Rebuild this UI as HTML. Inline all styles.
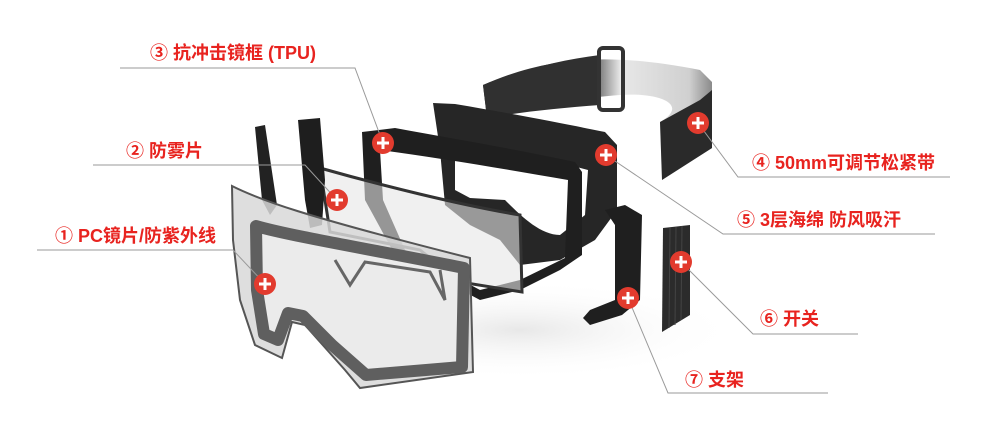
<!DOCTYPE html>
<html><head><meta charset="utf-8"><style>
html,body{margin:0;padding:0;background:#fff;}
svg{display:block}
.t{font-family:"Liberation Sans","Noto Sans CJK SC",sans-serif;font-weight:bold;font-size:18px;fill:#e8231f}
.l{stroke:#9a9a9a;stroke-width:1;fill:none}
</style></head><body>
<svg width="1000" height="441" viewBox="0 0 1000 441" xmlns="http://www.w3.org/2000/svg">
<defs>
<linearGradient id="sg" x1="0" y1="0" x2="1" y2="0">
<stop offset="0" stop-color="#2e2e2e"/><stop offset="0.45" stop-color="#3a3a3a"/><stop offset="0.6" stop-color="#e8e8e8"/><stop offset="0.9" stop-color="#d0d0d0"/><stop offset="1" stop-color="#8a8a8a"/>
</linearGradient>
<radialGradient id="sh" cx="0.5" cy="0.5" r="0.5"><stop offset="0" stop-color="#d8d8d8"/><stop offset="1" stop-color="#fff" stop-opacity="0"/></radialGradient>
</defs>
<ellipse cx="520" cy="330" rx="220" ry="50" fill="url(#sh)" opacity="0.6"/>
<!-- strap -->
<path d="M483,85 C540,60 600,50 700,70 L712,82 L712,148 L662,180 L660,122 C690,105 660,92 620,95 C580,98 540,105 487,118 Z" fill="url(#sg)"/>
<path d="M483,85 C520,70 560,60 600,55 L600,105 C560,108 520,112 487,118 Z" fill="#303030"/>
<path d="M660,122 L700,100 L712,90 L712,148 L662,180 Z" fill="#2a2a2a"/>
<rect x="599" y="48" width="24" height="62" rx="4" fill="none" stroke="#333" stroke-width="4"/>
<!-- foam -->
<path fill-rule="evenodd" fill="#262626" d="M433,103 L455,104 C520,115 570,125 605,132 L617,145 L617,210 L595,240 L560,260 L520,265 L500,240 L470,225 L445,205 L440,150 Z M455,140 L455,190 L470,198 L505,200 C520,215 540,235 560,235 L585,215 L588,170 C550,160 500,150 455,140 Z"/>
<!-- TPU frame -->
<path fill-rule="evenodd" fill="#1f1f1f" d="M362,132 L395,128 C460,140 520,150 575,162 L582,172 L582,255 L560,270 L520,290 L480,300 L395,255 L365,200 Z M380,150 L383,200 L405,250 L480,290 L520,280 L565,258 L568,180 C510,170 440,158 380,150 Z"/>
<!-- antifog lens -->
<path d="M320,168 C380,185 460,205 520,215 L522,292 L460,282 L420,250 L330,232 Z" fill="#e6e6e6" fill-opacity="0.6" stroke="#333" stroke-width="3"/>
<!-- side clips left -->
<path d="M255,127 L265,125 L277,205 L270,215 L262,200 Z" fill="#222"/>
<path d="M298,120 L320,118 L325,180 L322,225 L310,228 L305,200 Z" fill="#1e1e1e"/>
<!-- front lens -->
<path d="M232,186 C260,200 300,215 470,258 L473,372 L360,388 L345,370 L305,325 L292,322 L282,358 L255,345 L240,300 L233,240 Z" fill="#d8d8d8" fill-opacity="0.85" stroke="#555" stroke-width="2"/>
<path d="M256,226 C290,236 380,251 464,268 L462,367 L366,375 L332,345 L303,316 L288,313 L278,340 L264,334 L257,290 Z" fill="#ebebeb" stroke="#5f5f5f" stroke-width="12" stroke-linejoin="round"/>
<path d="M335,260 L350,285 L365,262 L430,272 L445,300 L440,270" fill="none" stroke="#666" stroke-width="3"/>
<!-- right bracket -->
<path d="M605,210 L625,205 L642,215 L640,300 L622,315 L590,325 L583,318 L590,310 L615,300 L615,225 Z" fill="#1f1f1f"/>
<!-- switch -->
<path d="M663,228 L690,225 L690,315 L662,332 Z" fill="#2b2b2b"/>
<g stroke="#444" stroke-width="1"><line x1="670" y1="228" x2="669" y2="328"/><line x1="676" y1="227" x2="675" y2="325"/><line x1="682" y1="226" x2="681" y2="320"/></g>
<!-- leader lines -->
<polyline class="l" points="120,68 355,68 383,143"/>
<polyline class="l" points="93,165 305,165 337,200"/>
<polyline class="l" points="37,250 233,250 265,284"/>
<polyline class="l" points="950,177 738,177 698,123"/>
<polyline class="l" points="935,234 723,234 606,155"/>
<polyline class="l" points="858,334 753,334 681,262"/>
<polyline class="l" points="828,393 668,393 628,298"/>
<!-- markers -->
<g fill="#e23b2e">
<circle cx="383" cy="143" r="11"/><circle cx="337" cy="200" r="11"/><circle cx="265" cy="284" r="11"/>
<circle cx="698" cy="123" r="11"/><circle cx="606" cy="155" r="11"/><circle cx="681" cy="262" r="11"/><circle cx="628" cy="298" r="11"/>
</g>
<g stroke="#fff" stroke-width="3">
<path d="M377,143h12M383,137v12"/><path d="M331,200h12M337,194v12"/><path d="M259,284h12M265,278v12"/>
<path d="M692,123h12M698,117v12"/><path d="M600,155h12M606,149v12"/><path d="M675,262h12M681,256v12"/><path d="M622,298h12M628,292v12"/>
</g>
<!-- labels -->
<text class="t" x="150" y="59">③ 抗冲击镜框 (TPU)</text>
<text class="t" x="126" y="157">② 防雾片</text>
<text class="t" x="55" y="242">① PC镜片/防紫外线</text>
<text class="t" x="752" y="169">④ 50mm可调节松紧带</text>
<text class="t" x="737" y="226">⑤ 3层海绵 防风吸汗</text>
<text class="t" x="760" y="325">⑥ 开关</text>
<text class="t" x="685" y="386">⑦ 支架</text>
</svg>
</body></html>
